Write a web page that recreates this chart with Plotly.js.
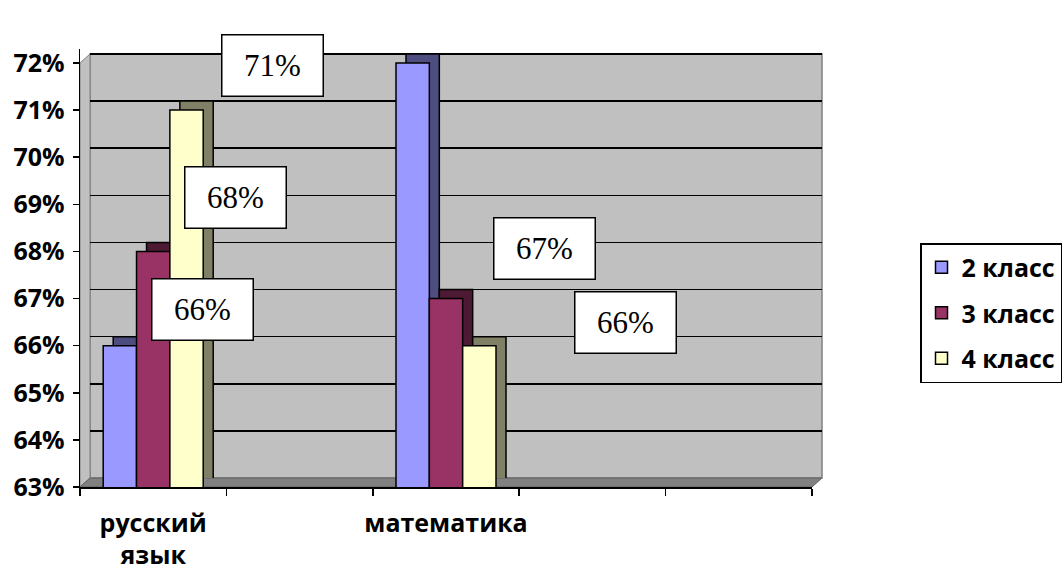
<!DOCTYPE html>
<html><head><meta charset="utf-8">
<script src="https://cdn.plot.ly/plotly-3.0.1.min.js"></script>
<style>html,body{margin:0;padding:0;background:#fff}</style>
</head><body><div id="chart" style="width:1064px;height:574px"></div>
<script>
// ---- data ----
const categories = ["русский<br>язык", "математика"];
const categorySlots = ["русский<br>язык", " ", "математика", "  ", "   "];
const seriesNames = ["2 класс", "3 класс", "4 класс"];
const values2 = [66, 72];
const values3 = [68, 67];
const values4 = [71, 66];
const yTickVals = [63, 64, 65, 66, 67, 68, 69, 70, 71, 72];
const yTickText = ["63%", "64%", "65%", "66%", "67%", "68%", "69%", "70%", "71%", "72%"];

// ---- styles / layout geometry ----
const frontColors = ["#9999FF", "#993366", "#FFFFCC"];
const sideColors = ["#4D4D80", "#4D1A33", "#808066"];
// data-label box positions [category index, value] in front-axis coordinates
const labelPos = [
  [[0.34, 66.77], [2.386, 72.39]],
  [[0.559, 69.15], [2.673, 68.07]],
  [[0.818, 71.94], [3.223, 66.50]]
];

const W = 1064, Hh = 574;
const L = 80, R = 822, T = 40, B = 487;
const PW = R - L, PH = B - T;
const px = x => (x - L) / PW;
const py = y => (B - y) / PH;
const unit = 424 / 9; // px per percent
const yMaxF = 72.3, yMaxB = 72.25;

const seriesVals = [values2, values3, values4];
const traces = [];
// back (depth) bars on the shifted back axes
seriesVals.forEach((v, i) => traces.push({
  type: 'bar', x: [categorySlots[0], categorySlots[2]], y: v, xaxis: 'x', yaxis: 'y',
  marker: {color: sideColors[i], line: {color: '#000', width: 1.5}},
  showlegend: false, hoverinfo: 'skip'
}));
// front bars
seriesVals.forEach((v, i) => traces.push({
  type: 'bar', name: seriesNames[i], x: [categorySlots[0], categorySlots[2]], y: v,
  xaxis: 'x2', yaxis: 'y2', legendgroup: 'g' + i,
  marker: {color: frontColors[i], line: {color: '#000', width: 1.5}}
}));

const annotations = [];
seriesVals.forEach((v, i) => v.forEach((val, j) => annotations.push({
  xref: 'x2', yref: 'y2', x: labelPos[i][j][0], y: labelPos[i][j][1],
  text: val + '%', showarrow: false,
  font: {family: 'Liberation Serif', size: 31, color: '#000'},
  bgcolor: '#fff', bordercolor: '#000', borderwidth: 1.5,
  width: 98, height: 58, align: 'center', valign: 'middle'
})));

const shapes = [
  {type: 'rect', xref: 'paper', yref: 'paper', layer: 'below',
   x0: px(90), x1: px(822), y0: py(478), y1: py(54),
   fillcolor: '#C0C0C0', line: {color: '#808080', width: 1.5}},
  {type: 'path', xref: 'paper', yref: 'paper', layer: 'below',
   path: `M ${px(80)},${py(487)} L ${px(80)},${py(63)} L ${px(90)},${py(54)} L ${px(90)},${py(478)} Z`,
   fillcolor: '#C0C0C0', line: {color: '#808080', width: 1}},
  {type: 'path', xref: 'paper', yref: 'paper', layer: 'below',
   path: `M ${px(80)},${py(487)} L ${px(90)},${py(478)} L ${px(822)},${py(478)} L ${px(812)},${py(487)} Z`,
   fillcolor: '#808080', line: {color: '#606060', width: 1}}
];

const axFont = {family: 'Open Sans', size: 25, color: '#000', weight: 'bold'};
const layout = {
  width: W, height: Hh,
  margin: {l: L, r: W - R, t: T, b: Hh - B, autoexpand: false},
  paper_bgcolor: '#fff', plot_bgcolor: 'rgba(0,0,0,0)',
  barmode: 'group', bargap: 0.317, bargroupgap: 0,
  showlegend: true,
  legend: {x: px(920), y: py(243), xanchor: 'left', yanchor: 'top',
    bordercolor: '#000', borderwidth: 1.5, bgcolor: '#fff',
    font: {family: 'Open Sans', size: 25, color: '#000', weight: 'bold'},
    traceorder: 'grouped', tracegroupgap: 10, entrywidth: 150, entrywidthmode: 'pixels'},
  xaxis: {domain: [px(90), 1], anchor: 'y', type: 'category', categoryorder: 'array',
    categoryarray: categorySlots, range: [-0.5, 4.5], showticklabels: false,
    showgrid: false, zeroline: false, showline: false, ticks: '', fixedrange: true},
  yaxis: {domain: [py(478), py(478 - (yMaxB - 63) * unit)], anchor: 'x', range: [63, yMaxB],
    tickvals: yTickVals, showticklabels: false, showgrid: true, gridcolor: '#000', gridwidth: 1.5,
    zeroline: false, showline: false, ticks: '', fixedrange: true},
  xaxis2: {domain: [0, px(812)], anchor: 'y2', type: 'category', categoryorder: 'array',
    categoryarray: categorySlots, range: [-0.5, 4.5], tickson: 'boundaries',
    tickangle: 0, automargin: false,
    ticks: 'outside', ticklen: 7, tickwidth: 1.5, tickcolor: '#000',
    showline: true, linecolor: '#000', linewidth: 1.5, showgrid: false, zeroline: false,
    ticklabelstandoff: 13,
    tickfont: {family: 'Open Sans', size: 25, color: '#000', weight: 'bold'}, fixedrange: true},
  yaxis2: {domain: [0, py(487 - (yMaxF - 63) * unit)], anchor: 'x2', range: [63, yMaxF],
    tickvals: yTickVals, ticktext: yTickText, ticks: 'outside', ticklen: 6, tickwidth: 1.5,
    tickcolor: '#000', showline: true, linecolor: '#000', linewidth: 1.5,
    showgrid: false, zeroline: false, tickfont: axFont, ticklabelstandoff: 3, fixedrange: true},
  shapes: shapes,
  annotations: annotations
};

Plotly.newPlot('chart', traces, layout, {displayModeBar: false, staticPlot: true});
</script>
</body></html>
